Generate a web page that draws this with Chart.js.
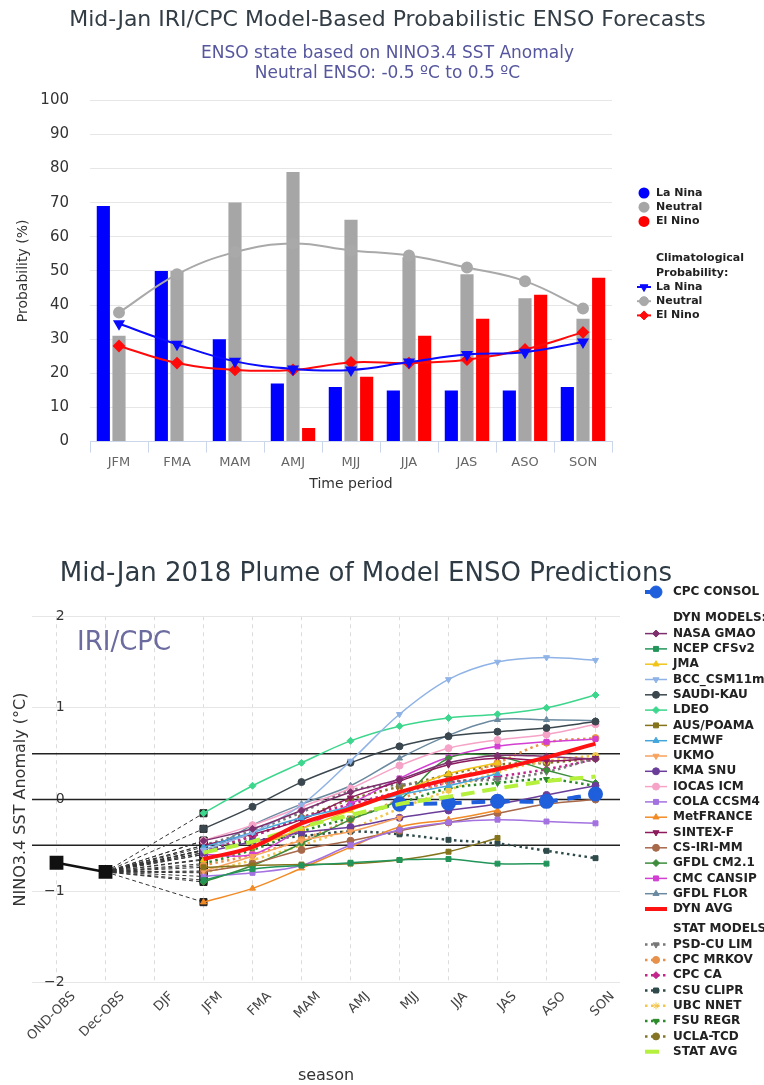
<!DOCTYPE html>
<html>
<head>
<meta charset="utf-8">
<script src="https://cdn.jsdelivr.net/npm/chart.js@4.4.1/dist/chart.umd.min.js"></script>
<style>
  html, body { margin: 0; padding: 0; background: #fff; overflow: hidden; }
  #probWrap { position: absolute; left: 0; top: 0; width: 764px; height: 505px; }
  #plumeWrap { position: absolute; left: 0; top: 552px; width: 764px; height: 533px; }
</style>
</head>
<body>
<div id="probWrap"><canvas id="probChart"></canvas></div>
<div id="plumeWrap"><canvas id="plumeChart"></canvas></div>
<script>
// ---------- probabilistic forecast (top) ----------
const periods = ['JFM', 'FMA', 'MAM', 'AMJ', 'MJJ', 'JJA', 'JAS', 'ASO', 'SON'];
const laNinaProb = [69, 50, 30, 17, 16, 15, 15, 15, 16];
const neutralProb = [31, 50, 70, 79, 65, 54, 49, 42, 36];
const elNinoProb = [0, 0, 0, 4, 19, 31, 36, 43, 48];
const climLaNina = [34.5, 28.5, 23.5, 21.3, 21, 23.3, 25.5, 26.2, 29.2];
const climNeutral = [37.8, 49, 55.5, 58, 56, 54.5, 51, 47, 39];
const climElNino = [28, 23, 21, 21, 23.2, 23, 24, 27, 32];

// ---------- model plume (bottom) ----------
const seasons = ['OND-OBS', 'Dec-OBS', 'DJF', 'JFM', 'FMA', 'MAM', 'AMJ', 'MJJ', 'JJA', 'JAS', 'ASO', 'SON'];
const observed = [-0.69, -0.79];
// model values JFM .. SON
const nasaGmao = [-0.45, -0.32, -0.12, 0.08, 0.22, 0.40, 0.48, 0.47, 0.44];
const ncepCfsv2 = [-0.88, -0.76, -0.72, -0.69, -0.66, -0.65, -0.70, -0.70, null];
const jma = [-0.66, -0.52, -0.32, -0.12, 0.08, 0.28, 0.40];
const bccCsm = [-0.55, -0.36, -0.06, 0.42, 0.93, 1.31, 1.50, 1.55, 1.52];
const saudiKau = [-0.32, -0.08, 0.19, 0.40, 0.58, 0.69, 0.74, 0.78, 0.85];
const ldeo = [-0.15, 0.15, 0.40, 0.64, 0.80, 0.89, 0.93, 1.00, 1.14];
const ausPoama = [-0.74, -0.72, -0.71, -0.70, -0.66, -0.57, -0.42];
const ecmwf = [-0.52, -0.36, -0.20, -0.08, 0.05, 0.15, 0.28];
const ukmo = [-0.78, -0.62, -0.45, -0.35, -0.20];
const kmaSnu = [-0.58, -0.46, -0.36, -0.30, -0.20, -0.12, -0.05, 0.05, 0.15];
const iocasIcm = [-0.45, -0.28, -0.08, 0.12, 0.37, 0.56, 0.65, 0.71, 0.82];
const colaCcsm4 = [-0.84, -0.80, -0.72, -0.50, -0.33, -0.25, -0.22, -0.24, -0.26];
const metFrance = [-1.12, -0.97, -0.75, -0.52, -0.30, -0.22, -0.12];
const sintexF = [-0.50, -0.38, -0.22, 0.02, 0.20, 0.38, 0.45, 0.42, 0.45];
const csIriMm = [-0.79, -0.70, -0.55, -0.45, -0.34, -0.25, -0.15, -0.05, 0.00];
const gfdlCm21 = [-0.90, -0.72, -0.48, -0.22, 0.00, 0.45, 0.47, 0.32, 0.18];
const cmcCansip = [-0.60, -0.60, -0.32, -0.05, 0.23, 0.46, 0.58, 0.63, 0.66];
const gfdlFlor = [-0.60, -0.28, -0.05, 0.15, 0.45, 0.70, 0.87, 0.87, 0.86];
const dynAvg = [-0.65, -0.52, -0.26, -0.10, 0.08, 0.22, 0.33, 0.46, 0.61];
const psdCuLim = [-0.50, -0.34, -0.14, 0.10, 0.16, 0.20, 0.22, 0.30, 0.45];
const cpcMrkov = [-0.72, -0.60, -0.44, -0.22, 0.00, 0.20, 0.40, 0.62, 0.67];
const cpcCa = [-0.55, -0.40, -0.20, -0.05, 0.08, 0.18, 0.25, 0.33, 0.44];
const csuClipr = [-0.55, -0.45, -0.40, -0.35, -0.38, -0.44, -0.48, -0.56, -0.64];
const ubcNnet = [-0.80, -0.66, -0.50, -0.32, -0.10, 0.10, 0.30, 0.42, 0.48];
const fsuRegr = [-0.70, -0.55, -0.35, -0.20, -0.04, 0.12, 0.18, 0.22, 0.15];
const uclaTcd = [-0.56, -0.40, -0.20, 0.00, 0.14, 0.27, 0.38, 0.40, 0.45];
const statAvg = [-0.58, -0.46, -0.30, -0.17, -0.05, 0.03, 0.12, 0.20, 0.25];
const cpcConsol = [null, null, null, null, -0.05, -0.04, -0.02, -0.02, 0.06];

const dynModels = [
  { name: 'NASA GMAO', values: nasaGmao, color: '#7d2f6e', point: 'rectRot' },
  { name: 'NCEP CFSv2', values: ncepCfsv2, color: '#22955a', point: 'rect' },
  { name: 'JMA', values: jma, color: '#f0c419', point: 'triangle' },
  { name: 'BCC_CSM11m', values: bccCsm, color: '#8fb3e6', point: 'triangle', rot: 180 },
  { name: 'SAUDI-KAU', values: saudiKau, color: '#3b474f', point: 'circle' },
  { name: 'LDEO', values: ldeo, color: '#3cd68c', point: 'rectRot' },
  { name: 'AUS/POAMA', values: ausPoama, color: '#85741c', point: 'rect' },
  { name: 'ECMWF', values: ecmwf, color: '#45a6dc', point: 'triangle' },
  { name: 'UKMO', values: ukmo, color: '#f7a25e', point: 'triangle', rot: 180 },
  { name: 'KMA SNU', values: kmaSnu, color: '#6a3d9a', point: 'circle' },
  { name: 'IOCAS ICM', values: iocasIcm, color: '#f5a3c7', point: 'circle' },
  { name: 'COLA CCSM4', values: colaCcsm4, color: '#a372e0', point: 'rect' },
  { name: 'MetFRANCE', values: metFrance, color: '#f28a25', point: 'triangle' },
  { name: 'SINTEX-F', values: sintexF, color: '#8c1a5c', point: 'triangle', rot: 180 },
  { name: 'CS-IRI-MM', values: csIriMm, color: '#a8684a', point: 'circle' },
  { name: 'GFDL CM2.1', values: gfdlCm21, color: '#3c8c3c', point: 'rectRot' },
  { name: 'CMC CANSIP', values: cmcCansip, color: '#d23fd2', point: 'rect' },
  { name: 'GFDL FLOR', values: gfdlFlor, color: '#6b8aa0', point: 'triangle' }
];
const statModels = [
  { name: 'PSD-CU LIM', values: psdCuLim, color: '#777777', point: 'triangle', rot: 180 },
  { name: 'CPC MRKOV', values: cpcMrkov, color: '#e8914a', point: 'circle' },
  { name: 'CPC CA', values: cpcCa, color: '#c2258c', point: 'rectRot' },
  { name: 'CSU CLIPR', values: csuClipr, color: '#2f4a4a', point: 'rect' },
  { name: 'UBC NNET', values: ubcNnet, color: '#f2c64a', point: 'star' },
  { name: 'FSU REGR', values: fsuRegr, color: '#2a8a2a', point: 'triangle', rot: 180 },
  { name: 'UCLA-TCD', values: uclaTcd, color: '#857424', point: 'circle' }
];

Chart.defaults.font.family = "'DejaVu Sans', sans-serif";
Chart.defaults.animation = false;

// legend drawn next to the plot, line + marker swatches
const sideLegend = {
  id: 'sideLegend',
  afterDraw(chart, args, opts) {
    const ctx = chart.ctx;
    const x0 = chart.chartArea.right + opts.offset;
    ctx.save();
    ctx.font = 'bold ' + opts.fontSize + 'px "DejaVu Sans", sans-serif';
    ctx.textBaseline = 'middle';
    let y = opts.top;
    opts.rows.forEach(row => {
      if (row.gap) { y += row.gap; return; }
      const ds = row.ds ? chart.data.datasets.find(d => d.label === row.ds) : null;
      if (ds) {
        const cx = x0 + opts.swatch / 2;
        if (ds.type === 'bar') {
          ctx.fillStyle = ds.backgroundColor;
          ctx.beginPath();
          ctx.arc(cx, y, 5.5, 0, Math.PI * 2);
          ctx.fill();
        } else {
          ctx.strokeStyle = ds.borderColor;
          ctx.lineWidth = Math.min(ds.borderWidth, 4);
          ctx.setLineDash(ds.borderDash || []);
          ctx.beginPath();
          ctx.moveTo(x0, y);
          ctx.lineTo(x0 + opts.swatch, y);
          ctx.stroke();
          ctx.setLineDash([]);
          const r = ds.legendRadius != null ? ds.legendRadius : ds.pointRadius;
          if (r > 0) {
            ctx.fillStyle = ds.backgroundColor;
            ctx.lineWidth = 1;
            Chart.helpers.drawPoint(ctx, { pointStyle: ds.pointStyle, rotation: ds.pointRotation || 0, radius: r, borderWidth: ds.pointStyle === 'star' ? 2 : 1 }, cx, y);
          }
        }
      }
      ctx.fillStyle = opts.color;
      ctx.fillText(row.text, x0 + opts.swatch + opts.textGap, y);
      y += opts.step;
    });
    ctx.restore();
  }
};

// ENSO threshold lines and the IRI/CPC tag
const plumeDecor = {
  id: 'plumeDecor',
  beforeDatasetsDraw(chart) {
    const { ctx, chartArea } = chart;
    const yScale = chart.scales.y;
    ctx.save();
    ctx.strokeStyle = '#222';
    ctx.lineWidth = 1.5;
    [-0.5, 0, 0.5].forEach(v => {
      const py = yScale.getPixelForValue(v);
      ctx.beginPath();
      ctx.moveTo(chartArea.left, py);
      ctx.lineTo(chartArea.right, py);
      ctx.stroke();
    });
    ctx.font = '26px "DejaVu Sans", sans-serif';
    ctx.fillStyle = '#6b6ba0';
    ctx.textBaseline = 'middle';
    ctx.fillText('IRI/CPC', chartArea.left + 45, chartArea.top + 27);
    ctx.restore();
  }
};

const legendSpace = w => ({
  position: 'right',
  display: true,
  grid: { drawOnChartArea: false, display: false },
  border: { display: false },
  ticks: { display: false },
  afterFit: s => { s.width = w; }
});

// ---------- top chart ----------
new Chart(document.getElementById('probChart'), {
  data: {
    labels: periods,
    datasets: [
      { type: 'line', label: 'Clim La Nina', data: climLaNina, borderColor: '#0a0aff', backgroundColor: '#0a0aff', borderWidth: 2, pointStyle: 'triangle', pointRotation: 180, pointRadius: 5, legendRadius: 4.5, tension: 0.4, order: 1 },
      { type: 'line', label: 'Clim Neutral', data: climNeutral, borderColor: '#a9a9a9', backgroundColor: '#a9a9a9', borderWidth: 2, pointStyle: 'circle', pointRadius: 5, legendRadius: 4.5, tension: 0.4, order: 3 },
      { type: 'line', label: 'Clim El Nino', data: climElNino, borderColor: '#ff0a0a', backgroundColor: '#ff0a0a', borderWidth: 2, pointStyle: 'rectRot', pointRadius: 5, legendRadius: 4.5, tension: 0.4, order: 2 },
      { type: 'bar', label: 'La Nina', data: laNinaProb, backgroundColor: '#0000ff', categoryPercentage: 0.81, barPercentage: 0.84, order: 10 },
      { type: 'bar', label: 'Neutral', data: neutralProb, backgroundColor: '#a6a6a6', categoryPercentage: 0.81, barPercentage: 0.84, order: 10 },
      { type: 'bar', label: 'El Nino', data: elNinoProb, backgroundColor: '#ff0000', categoryPercentage: 0.81, barPercentage: 0.84, order: 10 }
    ]
  },
  options: {
    responsive: true,
    maintainAspectRatio: false,
    layout: { padding: { left: 11, bottom: 8 } },
    plugins: {
      legend: { display: false },
      tooltip: { enabled: false },
      title: { display: true, text: 'Mid-Jan IRI/CPC Model-Based Probabilistic ENSO Forecasts', color: '#333d45', font: { size: 22, weight: 'normal' }, padding: { top: 7, bottom: 2 } },
      subtitle: { display: true, text: ['ENSO state based on NINO3.4 SST Anomaly', 'Neutral ENSO: -0.5 ºC to 0.5 ºC'], color: '#56569e', font: { size: 17, weight: 'normal' }, padding: { top: 8, bottom: 16 } },
      sideLegend: {
        offset: 25, swatch: 14, textGap: 5, fontSize: 11, color: '#222', top: 193, step: 14.2,
        rows: [
          { text: 'La Nina', ds: 'La Nina' },
          { text: 'Neutral', ds: 'Neutral' },
          { text: 'El Nino', ds: 'El Nino' },
          { gap: 23 },
          { text: 'Climatological' },
          { text: 'Probability:' },
          { text: 'La Nina', ds: 'Clim La Nina' },
          { text: 'Neutral', ds: 'Clim Neutral' },
          { text: 'El Nino', ds: 'Clim El Nino' }
        ]
      }
    },
    scales: {
      x: {
        grid: { offset: true, drawOnChartArea: false, tickLength: 11, color: '#ccd6eb' },
        border: { color: '#ccd6eb' },
        ticks: { color: '#666', font: { size: 13 }, padding: 2 },
        title: { display: true, text: 'Time period', color: '#333', font: { size: 14 }, padding: { top: 4 } }
      },
      y: {
        min: 0, max: 100,
        grid: { color: '#e6e6e6', drawTicks: false },
        border: { display: false },
        ticks: { stepSize: 10, color: '#333', font: { size: 15 }, padding: 21 },
        title: { display: true, text: 'Probability (%)', color: '#333', font: { size: 14 }, padding: { top: 4, bottom: 8 } },
        afterFit: s => { s.width = 79; }
      },
      legendSpace: legendSpace(152)
    }
  },
  plugins: [sideLegend]
});

// ---------- bottom chart ----------
const pad3 = v => [null, null, null].concat(v);
const plumeSets = [];
const allModels = dynModels.concat(statModels);

dynModels.forEach(m => plumeSets.push({
  type: 'line', label: m.name, data: pad3(m.values), borderColor: m.color, backgroundColor: m.color,
  borderWidth: 1.5, pointStyle: m.point, pointRotation: m.rot || 0, pointRadius: 3.5, pointBorderWidth: 1,
  tension: 0.35, order: 10
}));
statModels.forEach(m => plumeSets.push({
  type: 'line', label: m.name, data: pad3(m.values), borderColor: m.color, backgroundColor: m.color,
  borderWidth: 2.5, borderDash: [2.5, 3.5], pointStyle: m.point, pointRotation: m.rot || 0, pointRadius: 3.5,
  pointBorderWidth: m.point === 'star' ? 2 : 1, tension: 0.35, order: 10
}));
plumeSets.push({ type: 'line', label: 'DYN AVG', data: pad3(dynAvg), borderColor: '#ff1212', backgroundColor: '#ff1212', borderWidth: 4, pointRadius: 0, legendRadius: 0, tension: 0.35, order: 2 });
plumeSets.push({ type: 'line', label: 'STAT AVG', data: pad3(statAvg), borderColor: '#b4f03c', backgroundColor: '#b4f03c', borderWidth: 4, borderDash: [14, 8], pointRadius: 0, legendRadius: 0, tension: 0.35, order: 3 });
plumeSets.push({ type: 'line', label: 'CPC CONSOL', data: pad3(cpcConsol), borderColor: '#1f5fdc', backgroundColor: '#1f5fdc', borderWidth: 4, borderDash: [14, 10], pointStyle: 'circle', pointRadius: 5.5, legendRadius: 6, tension: 0.35, order: 4 });
plumeSets.push({ type: 'line', label: 'Observed', data: observed, borderColor: '#111', backgroundColor: '#111', borderWidth: 2.5, pointStyle: 'rect', pointRadius: 8, tension: 0, order: 40 });
[dynAvg, statAvg].concat(allModels.map(m => m.values)).forEach(v => plumeSets.push({
  type: 'line', label: 'fan', data: [null, observed[1], null, v[0]], spanGaps: true,
  borderColor: '#333', borderWidth: 1, borderDash: [4, 3], pointStyle: 'rect',
  pointRadius: c => (c.dataIndex === 3 ? 5 : 0), pointBackgroundColor: '#222', pointBorderColor: '#222',
  tension: 0, order: 50
}));

const plumeRows = [{ text: 'CPC CONSOL', ds: 'CPC CONSOL' }, { gap: 11 }, { text: 'DYN MODELS:' }]
  .concat(dynModels.map(m => ({ text: m.name, ds: m.name })))
  .concat([{ text: 'DYN AVG', ds: 'DYN AVG' }, { gap: 5 }, { text: 'STAT MODELS:' }])
  .concat(statModels.map(m => ({ text: m.name, ds: m.name })))
  .concat([{ text: 'STAT AVG', ds: 'STAT AVG' }]);

new Chart(document.getElementById('plumeChart'), {
  data: { labels: seasons, datasets: plumeSets },
  options: {
    responsive: true,
    maintainAspectRatio: false,
    layout: { autoPadding: false, padding: { left: 9, bottom: 0 } },
    plugins: {
      legend: { display: false },
      tooltip: { enabled: false },
      // trailing no-break spaces nudge the centred title a little to the left
      title: { display: true, text: 'Mid-Jan 2018 Plume of Model ENSO Predictions\u00a0\u00a0\u00a0\u00a0\u00a0', color: '#2e3b44', font: { size: 26, weight: 'normal' }, padding: { top: 7, bottom: 26 } },
      sideLegend: {
        offset: 25, swatch: 22, textGap: 6, fontSize: 12, color: '#222', top: 40, step: 15.3,
        rows: plumeRows
      }
    },
    scales: {
      x: {
        offset: true,
        grid: { offset: false, color: '#dcdcdc', drawTicks: false },
        border: { display: false, dash: [4, 4] },
        ticks: { color: '#444', font: { size: 13 }, minRotation: 45, maxRotation: 45, autoSkip: false, labelOffset: 17, padding: 6 },
        title: { display: true, text: 'season', color: '#333', font: { size: 16 }, padding: { top: 16, bottom: 0 } }
      },
      y: {
        min: -2, max: 2,
        grid: { color: '#e6e6e6', drawTicks: false },
        border: { display: false },
        ticks: {
          stepSize: 1, mirror: true, crossAlign: 'far', padding: 12, color: '#333', font: { size: 14 },
          callback: v => (v < 0 ? '\u2212' + Math.abs(v) : String(v))
        },
        title: { display: true, text: 'NINO3.4 SST Anomaly (°C)', color: '#333', font: { size: 16 }, padding: { top: 2, bottom: 6 } },
        afterFit: s => { s.width = 23; }
      },
      legendSpace: legendSpace(144)
    }
  },
  plugins: [sideLegend, plumeDecor]
});
</script>
</body>
</html>
